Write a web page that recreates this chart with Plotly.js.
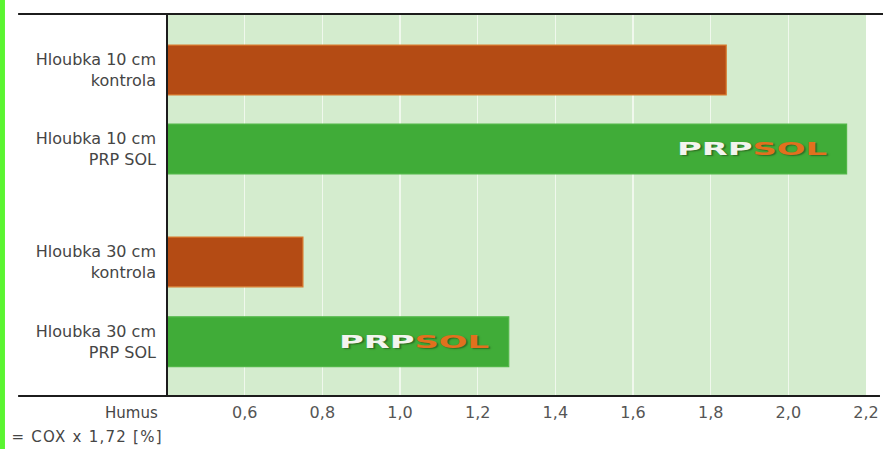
<!DOCTYPE html>
<html>
<head>
<meta charset="utf-8">
<script src="https://cdn.plot.ly/plotly-3.0.1.min.js"></script>
<style>
  html, body { margin: 0; padding: 0; background: #ffffff; }
  #chart { width: 883px; height: 449px; }
</style>
</head>
<body>
<div id="chart"></div>
<script>
// Humus content by depth and treatment
const categories = [
  'Hloubka 10 cm<br>kontrola',
  'Hloubka 10 cm<br>PRP SOL',
  'Hloubka 30 cm<br>kontrola',
  'Hloubka 30 cm<br>PRP SOL'
];
const treatment = ['kontrola', 'PRP SOL', 'kontrola', 'PRP SOL'];
const humus = [1.84, 2.15, 0.75, 1.28];
const xTickVals = [0.6, 0.8, 1.0, 1.2, 1.4, 1.6, 1.8, 2.0, 2.2];
const xTickText = ['0,6', '0,8', '1,0', '1,2', '1,4', '1,6', '1,8', '2,0', '2,2'];
const axisCaption = ['Humus', '= COX x 1,72 [%]'];
const logoParts = ['PRP', 'SOL'];

// Row layout: two depth groups with a wider gap between them
const rowPos = [0, 1, 2.43, 3.44];

const colorFor = { 'kontrola': '#b44b14', 'PRP SOL': '#40ac38' };
const edgeFor = { 'kontrola': '#d87a2e', 'PRP SOL': '#52b748' };

const FONT = 'DejaVu Sans, sans-serif';
const TEXT = '#454545';

const trace = {
  type: 'bar',
  orientation: 'h',
  x: humus,
  y: rowPos,
  width: 0.63,
  marker: {
    color: treatment.map(t => colorFor[t]),
    line: { color: treatment.map(t => edgeFor[t]), width: 1.2 }
  },
  hoverinfo: 'x'
};

// PRP SOL logo placed inside the end of each treated bar
const logoAnnotations = [];
treatment.forEach((t, i) => {
  if (t !== 'PRP SOL') return;
  logoAnnotations.push({
    x: humus[i], y: rowPos[i], xref: 'x', yref: 'y',
    xanchor: 'left', yanchor: 'middle', align: 'left',
    xshift: -172, showarrow: false,
    text: logoParts[0] + '<span style="color:#e2701e">' + logoParts[1] + '</span>',
    font: { family: FONT, size: 17, weight: 'bold', color: '#f3f4ee',
            shadow: '1px 1px 1px rgba(30,60,20,0.55)' }
  });
});

const layout = {
  width: 883, height: 449,
  margin: { l: 167, r: 17, t: 14, b: 53 },
  paper_bgcolor: '#ffffff',
  plot_bgcolor: '#d4ecce',
  showlegend: false,
  font: { family: FONT, size: 16, color: TEXT },
  xaxis: {
    range: [0.4, 2.2],
    tickvals: xTickVals,
    ticktext: xTickText,
    ticks: '',
    showgrid: true,
    gridcolor: '#f0f8ed',
    gridwidth: 1.5,
    zeroline: false,
    showline: false,
    ticklabelstandoff: 5,
    tickfont: { family: FONT, size: 16, color: '#555555' }
  },
  yaxis: {
    range: [4.127, -0.709],
    tickvals: rowPos,
    ticktext: categories,
    ticks: '',
    showgrid: false,
    zeroline: false,
    showline: false,
    ticklabelstandoff: 10,
    tickfont: { family: FONT, size: 16, color: TEXT }
  },
  shapes: [
    // bright side stripe
    { type: 'rect', xref: 'paper', yref: 'paper', x0: -0.2389, x1: -0.2318, y0: -0.2, y1: 1.1,
      fillcolor: '#5af531', line: { width: 0 } },
    // top rule
    { type: 'line', xref: 'paper', yref: 'paper', x0: -0.213, x1: 1.03, y0: 1, y1: 1,
      line: { color: '#1c1c1c', width: 2.2 } },
    // bottom rule
    { type: 'line', xref: 'paper', yref: 'paper', x0: -0.213, x1: 1.02, y0: 0, y1: 0,
      line: { color: '#1c1c1c', width: 2.2 } },
    // value axis origin line
    { type: 'line', xref: 'paper', yref: 'paper', x0: 0, x1: 0, y0: 0, y1: 1,
      line: { color: '#1c1c1c', width: 2 } }
  ],
  annotations: logoAnnotations.concat([
    { xref: 'paper', yref: 'paper', x: -0.01, y: -0.045, xanchor: 'right', yanchor: 'middle',
      showarrow: false, text: axisCaption[0], font: { family: FONT, size: 15, color: TEXT } },
    { xref: 'paper', yref: 'paper', x: -0.006, y: -0.108, xanchor: 'right', yanchor: 'middle',
      showarrow: false, text: axisCaption[1], font: { family: FONT, size: 15, color: TEXT } }
  ])
};

Plotly.newPlot('chart', [trace], layout, { displayModeBar: false, staticPlot: true }).then(gd => {
  gd.querySelectorAll('.annotation-text').forEach(t => {
    // widen the logo lettering to its extended wordmark proportions
    if (t.textContent === logoParts.join('')) {
      t.setAttribute('textLength', 150);
      t.setAttribute('lengthAdjust', 'spacingAndGlyphs');
    }
    // caption line is set with open letter spacing, right edge kept in place
    if (t.textContent === axisCaption[1]) {
      const box = t.getBBox();
      const right = box.x + box.width;
      t.setAttribute('text-anchor', 'start');
      t.setAttribute('x', right - 150);
      t.setAttribute('textLength', 150);
      t.setAttribute('lengthAdjust', 'spacing');
    }
  });
});
</script>
</body>
</html>
